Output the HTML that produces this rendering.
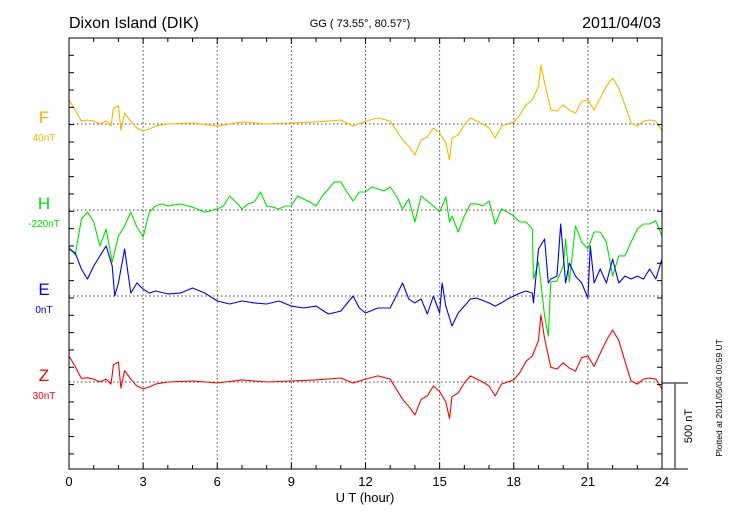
<!DOCTYPE html>
<html><head><meta charset="utf-8"><style>
html,body{margin:0;padding:0;background:#fff;}
svg{display:block;font-family:"Liberation Sans",sans-serif;}
</style></head><body>
<svg id="chart" width="730" height="520" viewBox="0 0 730 520" xmlns="http://www.w3.org/2000/svg">
<text x="69" y="28" font-size="16" fill="#000">Dixon Island (DIK)</text>
<text x="360" y="27" font-size="11" fill="#000" text-anchor="middle">GG ( 73.55°,  80.57°)</text>
<text x="661" y="28" font-size="16" fill="#000" text-anchor="end">2011/04/03</text>
<g id="grid"></g>
<g id="series"></g>
<rect x="69" y="38" width="593" height="431" fill="none" stroke="#000" stroke-width="1"/>
<g id="axes"></g>
<text x="365" y="502" font-size="13" text-anchor="middle">U T (hour)</text>
<line x1="662" y1="383" x2="688" y2="383" stroke="#000"/>
<line x1="662" y1="469" x2="688" y2="469" stroke="#000"/>
<line x1="675" y1="383" x2="675" y2="469" stroke="#555" stroke-width="1.5"/>
<text transform="translate(692,426) rotate(-90)" font-size="11" text-anchor="middle">500 nT</text>
<text transform="translate(722,398) rotate(-90)" font-size="8.5" text-anchor="middle">Plotted at 2011/05/04 00:59 UT</text>
</svg>
<script>
const xTicks=[0,3,6,9,12,15,18,21,24];
const fT=[0,.25,.5,.75,1,1.25,1.5,1.7,1.8,2,2.1,2.25,2.5,2.75,3,3.25,3.5,4,5,6,7,8,9,10,11,11.5,12,12.5,13,13.5,13.75,14,14.25,14.5,14.75,15,15.25,15.4,15.5,15.75,16,16.25,16.5,16.75,17,17.25,17.5,17.75,18,18.25,18.5,18.75,19,19.1,19.25,19.5,19.75,20,20.25,20.5,20.75,21,21.25,21.5,21.75,22,22.25,22.5,22.75,23,23.25,23.5,23.75,24];
const fV=[138,81,17,23,17,0,17,-12,92,104,-35,63,17,-23,-40,-29,-12,0,6,-12,12,0,6,12,23,-12,17,35,17,-92,-127,-179,-92,-75,-23,-52,-110,-208,-81,-63,-6,35,17,0,-23,-81,-12,0,12,52,110,138,219,340,237,81,75,110,81,63,133,138,81,150,219,265,208,110,6,-12,17,23,17,-40];
const zT=fT;
const zV=[150,90,20,25,17,0,17,-12,100,115,-35,65,17,-23,-40,-29,-12,0,6,-6,12,0,6,12,23,-6,17,35,17,-100,-140,-190,-100,-80,-23,-55,-115,-210,-85,-63,-6,35,17,0,-23,-81,-12,0,12,55,120,150,240,387,250,85,75,110,81,63,140,150,90,165,240,300,240,120,6,-12,17,23,17,-40];
const hT=[0,.25,.5,.75,1,1.25,1.5,1.75,2,2.25,2.5,2.75,3,3.25,3.5,3.75,4,4.5,5,5.5,6,6.25,6.5,6.75,7,7.25,7.5,7.75,8,8.25,8.5,8.75,9,9.25,9.5,9.75,10,10.25,10.5,10.75,11,11.25,11.5,11.75,12,12.25,12.5,12.75,13,13.25,13.5,13.75,14,14.25,14.5,14.75,15,15.25,15.4,15.5,15.75,16,16.25,16.5,16.75,17,17.25,17.5,17.75,18,18.25,18.5,18.75,18.8,19,19.25,19.4,19.5,19.75,20,20.1,20.25,20.5,20.75,21,21.25,21.5,21.75,22,22.25,22.5,22.75,23,23.25,23.5,23.75,24];
const hV=[-213,-260,-52,-12,-69,-208,-110,-300,-150,-92,-12,-98,-156,-12,23,35,23,35,17,-12,6,23,81,46,6,35,46,104,23,17,6,23,23,81,63,46,23,81,121,162,162,104,52,104,104,133,121,110,133,81,6,63,-69,81,52,23,-12,75,-69,-35,-127,-35,35,35,23,52,-81,6,-12,-35,-69,-69,-110,-398,-300,-612,-727,-415,-410,-323,-167,-415,-92,-185,-225,-127,-127,-185,-381,-265,-265,-185,-110,-81,-81,-63,-150];
const eT=[0,.25,.5,.75,1,1.25,1.5,1.75,1.85,2,2.25,2.5,2.75,3,3.25,3.5,4,4.5,5,5.5,6,6.5,7,7.5,8,8.5,9,9.5,10,10.5,11,11.5,11.75,12,12.5,13,13.5,13.75,14,14.25,14.5,14.75,15,15.1,15.25,15.5,15.75,16,16.25,16.5,17,17.25,17.5,17.75,18,18.25,18.5,18.75,18.8,19,19.25,19.4,19.5,19.75,19.9,20.1,20.25,20.5,20.75,21,21.1,21.25,21.5,21.75,22,22.25,22.5,22.75,23,23.25,23.5,23.75,24];
const eV=[271,248,156,98,173,231,289,173,0,75,271,17,75,40,17,29,12,17,46,17,-29,-46,-29,-40,-46,-29,-58,-69,-58,-104,-87,0,-69,-98,-69,-69,75,-17,-40,-17,-104,0,-98,75,-58,-173,-98,-58,-17,-12,-40,-58,-40,-17,0,17,29,17,-40,271,329,75,98,115,415,75,190,115,75,-12,289,75,156,75,213,75,115,98,115,98,156,98,213];

const X0=69,X1=662,Y0=38,Y1=469,PXNT=17.33/100;
const xs=h=>X0+(X1-X0)*h/24;
const ys=(base,v)=>base-v*PXNT;
const NS="http://www.w3.org/2000/svg";
function mk(tag,attrs,parent){const e=document.createElementNS(NS,tag);for(const k in attrs)e.setAttribute(k,attrs[k]);parent.appendChild(e);return e;}
const grid=document.getElementById('grid'),axes=document.getElementById('axes'),ser=document.getElementById('series');
const series=[
 {name:'f',t:fT,v:fV,base:124,color:'#ffb300',label:'F',sub:'40nT'},
 {name:'h',t:hT,v:hV,base:210,color:'#00e000',label:'H',sub:'-220nT'},
 {name:'e',t:eT,v:eV,base:296,color:'#0000ee',label:'E',sub:'0nT'},
 {name:'z',t:zT,v:zV,base:382,color:'#ff0000',label:'Z',sub:'30nT'}];
xTicks.forEach(h=>{
 if(h>0&&h<24){const l=mk('line',{x1:xs(h),y1:Y0,x2:xs(h),y2:Y1,stroke:'#444','stroke-dasharray':'1.5,2.5'},grid);
 
 }
 const t=mk('text',{x:xs(h),y:Y1+17,'font-size':13,'text-anchor':'middle'},axes);t.textContent=h;
 
 
});
for(let h=0;h<=24;h++){
 const len=(h%3===0)?6:4;
 mk('line',{x1:xs(h),y1:Y1,x2:xs(h),y2:Y1-len,stroke:'#000'},axes);
 mk('line',{x1:xs(h),y1:Y0,x2:xs(h),y2:Y0+len,stroke:'#000'},axes);
}
for(let y=Y0;y<=Y1+0.5;y+=17.33){
 mk('line',{x1:X0,y1:y,x2:X0+5,y2:y,stroke:'#000'},axes);
 mk('line',{x1:X1,y1:y,x2:X1-5,y2:y,stroke:'#000'},axes);
}
series.forEach(s=>{
 const b=mk('line',{x1:X0,y1:s.base,x2:X1,y2:s.base,stroke:'#444','stroke-dasharray':'1.5,2.5'},grid);
 
 
 const pts=s.t.map((t,i)=>xs(t).toFixed(1)+','+ys(s.base,s.v[i]).toFixed(1)).join(' ');
 const p=mk('polyline',{points:pts,fill:'none',stroke:s.color,'stroke-width':1.1,'stroke-linejoin':'round'},ser);
 
 
 const lb=mk('text',{x:44,y:s.base-1,'font-size':17,fill:s.color,'text-anchor':'middle'},axes);lb.textContent=s.label;
 
 
 const sb=mk('text',{x:44,y:s.base+17,'font-size':10,fill:s.color,'text-anchor':'middle'},axes);sb.textContent=s.sub;
 
 
});
</script>
</body></html>
